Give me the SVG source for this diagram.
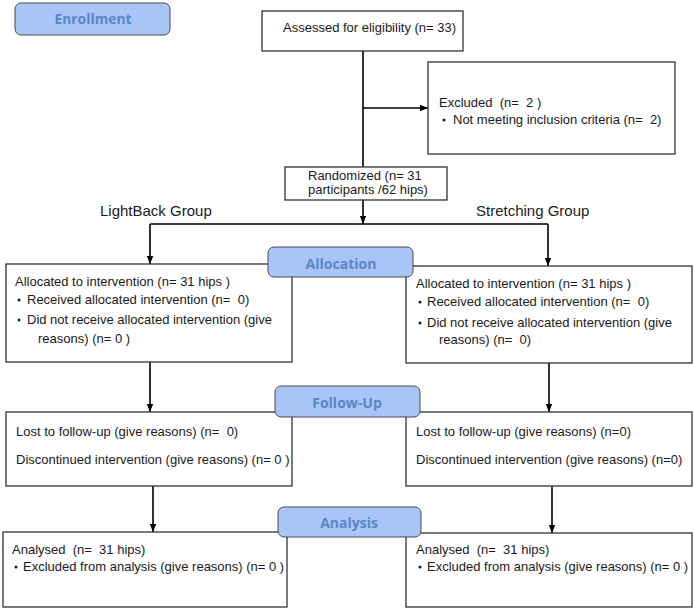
<svg xmlns="http://www.w3.org/2000/svg" width="694" height="609" viewBox="0 0 694 609">
<style>
.box{fill:#fff;stroke:#333;stroke-width:1.3}
.lbl{fill:#a9c5f7;stroke:#4a4a4a;stroke-width:1}
.lt{font-family:"Open Sans","DejaVu Sans",sans-serif;font-weight:700;font-size:14px;fill:#5a86c6;text-anchor:middle}
.t{font-family:"Liberation Sans",Arial,sans-serif;font-size:13px;fill:#1a1a1a;white-space:pre}
.g{font-family:"Liberation Sans",Arial,sans-serif;font-size:15px;fill:#1a1a1a}
.c{stroke:#000;stroke-width:1.6;fill:none}
</style>
<defs>
<marker id="a" viewBox="0 0 10 10" refX="10" refY="5" markerWidth="8" markerHeight="8" orient="auto" markerUnits="userSpaceOnUse">
<path d="M0,1 L10,5 L0,9 Z" fill="#000"/>
</marker>
</defs>
<g id="connectors">
<line class="c" x1="363" y1="51" x2="363" y2="167"/>
<line class="c" x1="363" y1="108" x2="428" y2="108" marker-end="url(#a)"/>
<line class="c" x1="363" y1="200" x2="363" y2="224" marker-end="url(#a)"/>
<line class="c" x1="150" y1="224" x2="548" y2="224"/>
<line class="c" x1="150" y1="224" x2="150" y2="264" marker-end="url(#a)"/>
<line class="c" x1="548" y1="224" x2="548" y2="266" marker-end="url(#a)"/>
<line class="c" x1="150" y1="362" x2="150" y2="412" marker-end="url(#a)"/>
<line class="c" x1="549" y1="363" x2="549" y2="412" marker-end="url(#a)"/>
<line class="c" x1="153" y1="486" x2="153" y2="532" marker-end="url(#a)"/>
<line class="c" x1="552" y1="486" x2="552" y2="533" marker-end="url(#a)"/>
</g>
<g id="assessed">
<rect class="box" x="262" y="11" width="201" height="40"/>
<text class="t" x="283" y="32">Assessed for eligibility (n= 33)</text>
</g>
<g id="excluded">
<rect class="box" x="428" y="62" width="247" height="92"/>
<text class="t" x="439" y="107" xml:space="preserve">Excluded  (n=  2 )</text>
<circle cx="444" cy="120" r="1.5" fill="#1a1a1a"/>
<text class="t" x="453" y="124" xml:space="preserve">Not meeting inclusion criteria (n=  2)</text>
</g>
<g id="randomized">
<rect class="box" x="285" y="167" width="162" height="33"/>
<text class="t" x="308" y="180">Randomized (n= 31</text>
<text class="t" x="308" y="194">participants /62 hips)</text>
</g>
<g id="group-labels">
<text class="g" x="100" y="216">LightBack Group</text>
<text class="g" x="476" y="216">Stretching Group</text>
</g>
<g id="alloc-left">
<rect class="box" x="6" y="264" width="286" height="98"/>
<text class="t" x="15" y="286">Allocated to intervention (n= 31 hips )</text>
<circle cx="19" cy="300" r="1.5" fill="#1a1a1a"/>
<text class="t" x="27" y="304" xml:space="preserve">Received allocated intervention (n=  0)</text>
<circle cx="19" cy="320" r="1.5" fill="#1a1a1a"/>
<text class="t" x="27" y="324">Did not receive allocated intervention (give</text>
<text class="t" x="38" y="343">reasons) (n= 0 )</text>
</g>
<g id="alloc-right">
<rect class="box" x="406" y="266" width="286" height="97"/>
<text class="t" x="416" y="288">Allocated to intervention (n= 31 hips )</text>
<circle cx="420" cy="302" r="1.5" fill="#1a1a1a"/>
<text class="t" x="427" y="306" xml:space="preserve">Received allocated intervention (n=  0)</text>
<circle cx="420" cy="323" r="1.5" fill="#1a1a1a"/>
<text class="t" x="427" y="327">Did not receive allocated intervention (give</text>
<text class="t" x="439" y="344" xml:space="preserve">reasons) (n=  0)</text>
</g>
<g id="follow-left">
<rect class="box" x="6" y="412" width="286" height="74"/>
<text class="t" x="16" y="436" xml:space="preserve">Lost to follow-up (give reasons) (n=  0)</text>
<text class="t" x="16" y="464">Discontinued intervention (give reasons) (n= 0 )</text>
</g>
<g id="follow-right">
<rect class="box" x="406" y="412" width="286" height="74"/>
<text class="t" x="416" y="436">Lost to follow-up (give reasons) (n=0)</text>
<text class="t" x="416" y="464">Discontinued intervention (give reasons) (n=0)</text>
</g>
<g id="analysis-left">
<rect class="box" x="3" y="532" width="284" height="75"/>
<text class="t" x="12" y="554" xml:space="preserve">Analysed  (n=  31 hips)</text>
<circle cx="16" cy="567" r="1.5" fill="#1a1a1a"/>
<text class="t" x="23" y="571">Excluded from analysis (give reasons) (n= 0 )</text>
</g>
<g id="analysis-right">
<rect class="box" x="406" y="533" width="286" height="74"/>
<text class="t" x="416" y="554" xml:space="preserve">Analysed  (n=  31 hips)</text>
<circle cx="420" cy="567" r="1.5" fill="#1a1a1a"/>
<text class="t" x="427" y="571">Excluded from analysis (give reasons) (n= 0 )</text>
</g>
<g id="enrollment">
<rect class="lbl" x="15" y="3" width="155" height="32" rx="6"/>
<text class="lt" x="93" y="24" style="font-size:15px" textLength="77" lengthAdjust="spacingAndGlyphs">Enrollment</text>
</g>
<g id="allocation">
<rect class="lbl" x="268" y="247" width="145" height="30" rx="6"/>
<text class="lt" x="341" y="269" textLength="71" lengthAdjust="spacingAndGlyphs">Allocation</text>
</g>
<g id="follow-up">
<rect class="lbl" x="275" y="386" width="145" height="31" rx="6"/>
<text class="lt" x="347" y="408">Follow-Up</text>
</g>
<g id="analysis">
<rect class="lbl" x="278" y="507" width="143" height="30" rx="6"/>
<text class="lt" x="349" y="528">Analysis</text>
</g>
</svg>
